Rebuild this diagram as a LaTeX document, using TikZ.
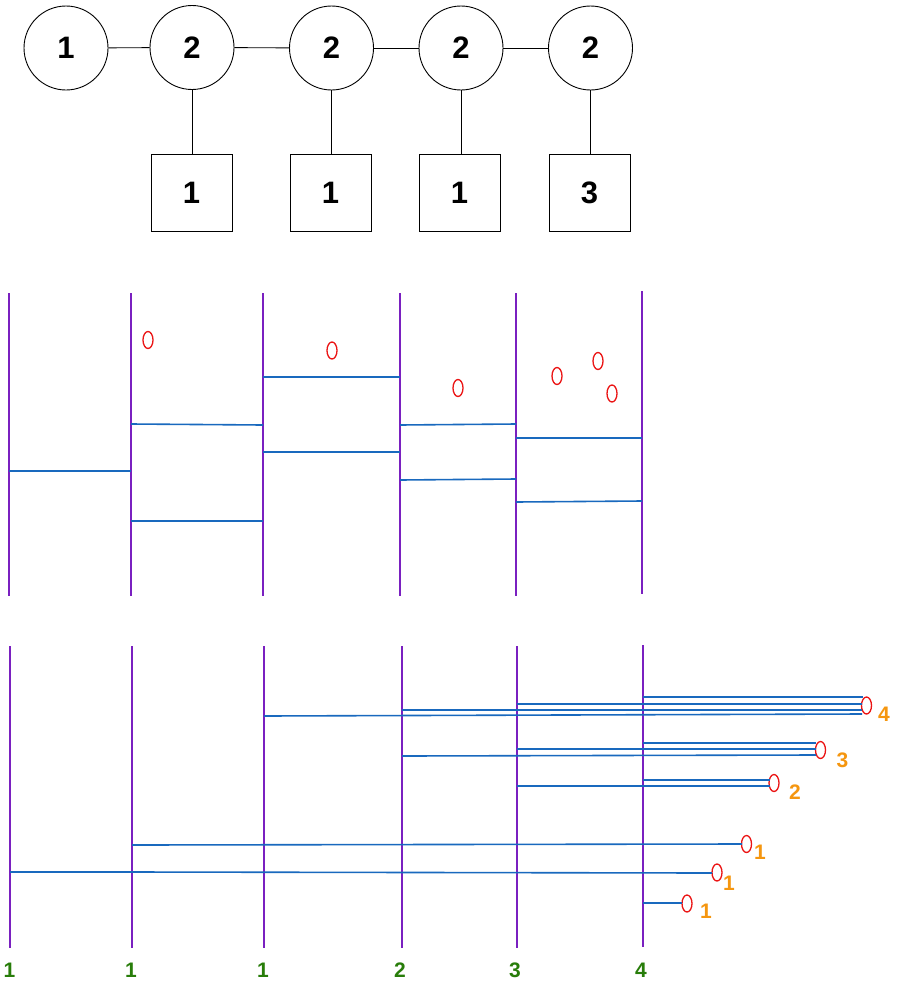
\documentclass[tikz,border=0pt]{standalone}
\usepackage{fontspec}
\setmainfont{Liberation Sans}
\usetikzlibrary{shapes.geometric}
\definecolor{purp}{RGB}{122,32,192}
\definecolor{blu}{RGB}{25,105,190}
\definecolor{redc}{RGB}{235,20,20}
\definecolor{orng}{RGB}{245,150,15}
\definecolor{grn}{RGB}{40,125,10}
\tikzset{
  circ/.style={circle,draw=black,line width=0.9pt,minimum size=84pt,inner sep=0pt,font=\bfseries\fontsize{31}{31}\selectfont},
  sq/.style={rectangle,draw=black,line width=0.9pt,minimum width=81pt,minimum height=77pt,inner sep=0pt,font=\bfseries\fontsize{31}{31}\selectfont},
  blk/.style={draw=black,line width=0.9pt},
  pline/.style={draw=purp,line width=2pt},
  bline/.style={draw=blu,line width=1.6pt},
  ell/.style={ellipse,draw=redc,line width=1.3pt,minimum width=10pt,minimum height=17pt,inner sep=0pt},
  olab/.style={text=orng,font=\bfseries\fontsize{21}{21}\selectfont,inner sep=0pt},
  glab/.style={text=grn,font=\bfseries\fontsize{21}{21}\selectfont,inner sep=0pt}
}
\begin{document}
\begin{tikzpicture}[x=1pt,y=-1pt]
\useasboundingbox[fill=white] (0,0) rectangle (897,985);
% top graph
\node[circ] (c1) at (66,48) {1};
\node[circ] (c2) at (192,47.5) {2};
\node[circ] (c3) at (331.5,48) {2};
\node[circ] (c4) at (461,48) {2};
\node[circ] (c5) at (590.5,48) {2};
\node[sq] (s1) at (191.5,192.5) {1};
\node[sq] (s2) at (330.5,193) {1};
\node[sq] (s3) at (459.5,193) {1};
\node[sq] (s4) at (589.5,193) {3};
\draw[blk] (c1) -- (c2);
\draw[blk] (c2) -- (c3);
\draw[blk] (c3) -- (c4);
\draw[blk] (c4) -- (c5);
\draw[blk] (c2.south) -- (c2.south |- s1.north);
\draw[blk] (c3.south) -- (c3.south |- s2.north);
\draw[blk] (c4.south) -- (c4.south |- s3.north);
\draw[blk] (c5.south) -- (c5.south |- s4.north);
% middle ladder
\coordinate (mT1) at (9,293);   \coordinate (mB1) at (9,596);
\coordinate (mT2) at (131,293); \coordinate (mB2) at (131,596);
\coordinate (mT3) at (263,293); \coordinate (mB3) at (263,596);
\coordinate (mT4) at (400,293); \coordinate (mB4) at (400,596);
\coordinate (mT5) at (516,293); \coordinate (mB5) at (516,596);
\coordinate (mT6) at (642,291); \coordinate (mB6) at (642,594);
\draw[pline] (mT1) -- (mB1);
\draw[pline] (mT2) -- (mB2);
\draw[pline] (mT3) -- (mB3);
\draw[pline] (mT4) -- (mB4);
\draw[pline] (mT5) -- (mB5);
\draw[pline] (mT6) -- (mB6);
\draw[bline] (9,471) -- (131,471);
\draw[bline] (131,424) -- (263,425);
\draw[bline] (131,521) -- (263,521);
\draw[bline] (263,377) -- (400,377);
\draw[bline] (263,452) -- (400,452);
\draw[bline] (400,425) -- (516,424);
\draw[bline] (400,480) -- (516,479);
\draw[bline] (516,438) -- (642,438);
\draw[bline] (516,502) -- (642,501);
\node[ell] (m1) at (148,340) {};
\node[ell] (m2) at (332,350.5) {};
\node[ell] (m3) at (458,388) {};
\node[ell] (m4) at (557,376) {};
\node[ell] (m5) at (598,361) {};
\node[ell] (m6) at (612,393.5) {};
% bottom ladder
\coordinate (bT1) at (10,646);  \coordinate (bB1) at (10,948);
\coordinate (bT2) at (132,646); \coordinate (bB2) at (132,948);
\coordinate (bT3) at (264,646); \coordinate (bB3) at (264,948);
\coordinate (bT4) at (402,646); \coordinate (bB4) at (402,948);
\coordinate (bT5) at (517,646); \coordinate (bB5) at (517,948);
\coordinate (bT6) at (643,645); \coordinate (bB6) at (643,947);
\draw[pline] (bT1) -- (bB1);
\draw[pline] (bT2) -- (bB2);
\draw[pline] (bT3) -- (bB3);
\draw[pline] (bT4) -- (bB4);
\draw[pline] (bT5) -- (bB5);
\draw[pline] (bT6) -- (bB6);
\node[ell] (e4) at (866.5,705.5) {};
\node[ell] (e3) at (820.5,750) {};
\node[ell] (e2) at (774,783) {};
\node[ell] (e1a) at (746.5,844) {};
\node[ell] (e1b) at (717,872.5) {};
\node[ell] (e1c) at (687,903.5) {};
\draw[bline] (643,697) -- (863,697);
\draw[bline] (517,704) -- (862,704);
\draw[bline] (402,710) -- (862,710);
\draw[bline] (264,716) -- (862,714);
\draw[bline] (643,743) -- (816,743);
\draw[bline] (517,749) -- (816,749);
\draw[bline] (402,756) -- (816,755);
\draw[bline] (643,780) -- (770,780);
\draw[bline] (517,786) -- (770,786);
\draw[bline] (132,845) -- (742,844);
\draw[bline] (10,872) -- (132,872) -- (712,873);
\draw[bline] (643,903) -- (682,903);
\node[olab] (o4) at (884,714.5) {4};
\node[olab] (o3) at (842.5,760) {3};
\node[olab] (o2) at (795,792) {2};
\node[olab] (o1a) at (760,852) {1};
\node[olab] (o1b) at (729,883.5) {1};
\node[olab] (o1c) at (706,911) {1};
\node[glab] (g1) at (9.5,970) {1};
\node[glab] (g2) at (131,970) {1};
\node[glab] (g3) at (263,970) {1};
\node[glab] (g4) at (400,970) {2};
\node[glab] (g5) at (515,970) {3};
\node[glab] (g6) at (641,970) {4};
\end{tikzpicture}
\end{document}
